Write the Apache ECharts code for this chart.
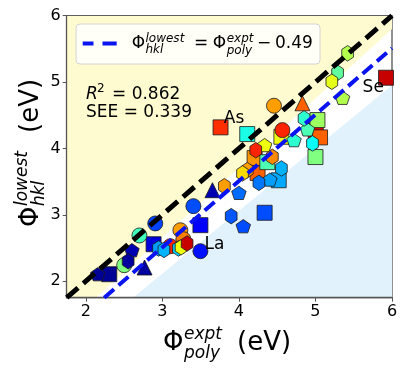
<!DOCTYPE html>
<html><head><meta charset="utf-8">
<script src="https://cdn.jsdelivr.net/npm/echarts@6/dist/echarts.min.js"></script>
<style>html,body{margin:0;padding:0;background:#fff}#c{width:407px;height:376px}</style>
</head><body><div id="c"></div>
<script>
// ---- axis ----
const axisMin = 1.75, axisMax = 6;
const xTicks = [2, 3, 4, 5, 6];
const yTicks = [2, 3, 4, 5, 6];
// ---- background region edges (value coordinates) ----
const yellowEdgeX = [2.13, 6.0];
const yellowEdgeY = [1.75, 5.80];
const blueEdgeX = [2.615, 6.0];
const blueEdgeY = [1.75, 4.95];
// ---- fit ----
const fitOffset = -0.49;
const parityX = [1.75, 6];
// ---- data (x = expt poly, y = lowest hkl, c = colour value 0..1 on jet) ----
const squareX = [2.306, 2.885, 3.497, 4.336, 3.76, 4.109, 4.205, 4.244, 4.371, 4.52, 4.555, 5.004, 5.026, 5.06, 5.0, 5.922];
const squareY = [2.104, 2.556, 2.843, 3.03, 4.317, 4.216, 3.854, 3.63, 3.793, 3.52, 4.175, 4.26, 4.427, 4.166, 3.87, 5.065];
const squareC = [0.02, 0.09, 0.12, 0.20, 0.83, 0.40, 0.73, 0.78, 0.45, 0.29, 0.61, 0.90, 0.53, 0.78, 0.50, 0.93];

const circleX = [2.501, 2.70, 2.907, 3.104, 3.235, 3.274, 3.497, 3.405, 4.458, 4.568];
const circleY = [2.24, 2.688, 2.869, 2.526, 2.767, 2.632, 2.451, 3.13, 4.643, 4.276];
const circleC = [0.50, 0.44, 0.19, 0.84, 0.72, 0.75, 0.14, 0.20, 0.72, 0.84];

const triangleX = [2.767, 3.654, 4.83];
const triangleY = [2.205, 3.37, 4.68];
const triangleC = [0.03, 0.05, 0.78];

const pentagonX = [2.156, 2.602, 4.0, 4.057, 4.336, 4.72, 4.895, 4.405, 5.354];
const pentagonY = [2.104, 2.466, 3.33, 2.828, 4.05, 4.125, 4.287, 3.53, 4.763];
const pentagonC = [0.02, 0.05, 0.23, 0.20, 0.61, 0.42, 0.45, 0.28, 0.55];

const hexagonX = [2.553, 2.95, 3.02, 3.21, 3.244, 3.323, 3.81, 3.899, 4.22, 4.437, 4.109, 4.047, 4.555, 4.261, 4.851, 4.961, 5.42, 5.289, 5.214];
const hexagonY = [2.30, 2.492, 2.47, 2.492, 2.51, 2.567, 3.43, 2.979, 3.973, 3.873, 3.673, 3.623, 3.698, 3.481, 4.452, 4.075, 5.433, 5.14, 5.005];
const hexagonC = [0.03, 0.28, 0.30, 0.33, 0.61, 0.93, 0.72, 0.21, 0.84, 0.74, 0.72, 0.66, 0.30, 0.24, 0.42, 0.38, 0.55, 0.47, 0.60];

const labelNames = ['As', 'Se', 'La'];
const labelX = [3.802, 5.616, 3.55];
const labelY = [4.45, 4.91, 2.557];

const FONT = '"DejaVu Sans", sans-serif';
const pentPath = 'path://M0,-100L95.1,-30.9L58.8,80.9L-58.8,80.9L-95.1,-30.9Z';
const hexPath = 'path://M0,-100L86.6,-50L86.6,50L0,100L-86.6,50L-86.6,-50Z';

function zip3(a, b, c) { return a.map((v, i) => [v, b[i], c[i]]); }

const scatterBase = {
  type: 'scatter', z: 2,
  itemStyle: { borderColor: '#1a1a1a', borderWidth: 0.8, opacity: 1 },
  emphasis: { disabled: true }
};

function txt(x, y, text, size, italic, extra) {
  return Object.assign({
    type: 'text', x: x, y: y, z: 100,
    style: { text: text, fontSize: size, fontFamily: FONT, fontStyle: italic ? 'italic' : 'normal',
             fill: '#000', align: 'left', verticalAlign: 'middle' }
  }, extra || {});
}

const chart = echarts.init(document.getElementById('c'), null, { renderer: 'canvas' });

const fitX = [axisMin - fitOffset, axisMax];
const fitY = fitX.map(v => v + fitOffset);

const option = {
  animation: false,
  backgroundColor: '#fff',
  grid: { left: 66.7, right: 15, top: 15.7, bottom: 78.3, show: true, borderColor: '#555', borderWidth: 1.3, backgroundColor: 'transparent' },
  xAxis: {
    type: 'value', min: axisMin, max: axisMax,
    axisLine: { show: true, lineStyle: { color: '#555', width: 1.3 } },
    axisTick: { show: true, customValues: xTicks, length: 4, lineStyle: { color: '#555', width: 1 } },
    axisLabel: { customValues: xTicks, fontSize: 16, fontFamily: FONT, color: '#000', margin: 6 },
    splitLine: { show: false }
  },
  yAxis: {
    type: 'value', min: axisMin, max: axisMax,
    axisLine: { show: true, lineStyle: { color: '#555', width: 1.3 } },
    axisTick: { show: true, customValues: yTicks, length: 4, lineStyle: { color: '#555', width: 1 } },
    axisLabel: { customValues: yTicks, fontSize: 16, fontFamily: FONT, color: '#000', margin: 6 },
    splitLine: { show: false }
  },
  visualMap: {
    show: false, type: 'continuous', min: 0, max: 1, dimension: 2,
    seriesIndex: [1, 2, 3, 4, 5],
    inRange: { color: ['#000080', '#0000ff', '#0080ff', '#00ffff', '#80ff80', '#ffff00', '#ff8000', '#ff0000', '#800000'] }
  },
  series: [
    {
      type: 'custom', z: 0, silent: true, clip: true,
      data: [[axisMin, axisMin]],
      encode: { x: 0, y: 1 },
      renderItem: function (params, api) {
        const yPts = [[axisMin, axisMin], [yellowEdgeX[0], yellowEdgeY[0]], [yellowEdgeX[1], yellowEdgeY[1]], [axisMax, axisMax], [axisMin, axisMax]].map(p => api.coord(p));
        const bPts = [[blueEdgeX[0], blueEdgeY[0]], [blueEdgeX[1], blueEdgeY[1]], [axisMax, axisMin]].map(p => api.coord(p));
        return { type: 'group', children: [
          { type: 'polygon', shape: { points: yPts }, style: { fill: '#fffbd0' } },
          { type: 'polygon', shape: { points: bPts }, style: { fill: '#e2f2fc' } }
        ] };
      }
    },
    Object.assign({}, scatterBase, { name: 'square', symbol: 'rect', symbolSize: 15, data: zip3(squareX, squareY, squareC) }),
    Object.assign({}, scatterBase, { name: 'circle', symbol: 'circle', symbolSize: 15, data: zip3(circleX, circleY, circleC) }),
    Object.assign({}, scatterBase, { name: 'triangle', symbol: 'triangle', symbolSize: 15, data: zip3(triangleX, triangleY, triangleC) }),
    Object.assign({}, scatterBase, { name: 'pentagon', symbol: pentPath, symbolKeepAspect: true, symbolSize: [14.5, 14], data: zip3(pentagonX, pentagonY, pentagonC) }),
    Object.assign({}, scatterBase, { name: 'hexagon', symbol: hexPath, symbolKeepAspect: true, symbolSize: [13.5, 15.5], data: zip3(hexagonX, hexagonY, hexagonC) }),
    {
      type: 'line', z: 3, symbol: 'none', silent: true,
      data: parityX.map(v => [v, v]),
      lineStyle: { color: '#000', width: 5, type: [15, 7] }
    },
    {
      type: 'line', z: 3, symbol: 'none', silent: true,
      data: fitX.map((v, i) => [v, fitY[i]]),
      lineStyle: { color: '#0a14f0', width: 4, type: [13, 6] }
    },
    {
      type: 'custom', z: 4, silent: true, clip: false,
      data: labelX.map((v, i) => [v, labelY[i], i]),
      encode: { x: 0, y: 1 },
      renderItem: function (params, api) {
        const p = api.coord([api.value(0), api.value(1)]);
        return { type: 'text', x: p[0], y: p[1],
          style: { text: labelNames[api.value(2)], fontSize: 17, fontFamily: FONT, fill: '#000', align: 'left', verticalAlign: 'middle' } };
      }
    }
  ],
  graphic: [
    { type: 'rect', z: 90, shape: { x: 76, y: 24, width: 244, height: 40, r: 4 }, style: { fill: 'rgba(255,255,255,0.82)', stroke: '#d4d4d4', lineWidth: 1 } },
    { type: 'line', z: 95, shape: { x1: 82.7, y1: 43.5, x2: 93.5, y2: 43.5 }, style: { stroke: '#0a14f0', lineWidth: 4 } },
    { type: 'line', z: 95, shape: { x1: 102.5, y1: 43.5, x2: 116.7, y2: 43.5 }, style: { stroke: '#0a14f0', lineWidth: 4 } },
    txt(131.7, 44, 'Φ', 17, false),
    txt(145.5, 38.5, 'lowest', 12, true),
    txt(145.5, 50, 'hkl', 12, true),
    txt(194, 44, '=', 17, false),
    txt(212.7, 44, 'Φ', 17, false),
    txt(226.7, 38.5, 'expt', 12, true),
    txt(226.7, 51, 'poly', 12, true),
    txt(257, 44, '−', 17, false),
    txt(275, 44, '0.49', 17, false),
    // R2 / SEE
    txt(86, 95, 'R', 17, true),
    txt(97, 89, '2', 12, false),
    txt(112, 95, '= 0.862', 17, false),
    txt(86, 113, 'SEE = 0.339', 17, false),
    // x axis title
    txt(163, 343, 'Φ', 26, false),
    txt(184, 335, 'expt', 17, true),
    txt(184, 354, 'poly', 17, true),
    txt(237, 343, '(eV)', 26, false),
    // y axis title (rotated)
    { type: 'group', x: 31, y: 227, rotation: Math.PI / 2, z: 100, children: [
      txt(0, 0, 'Φ', 26, false),
      txt(21, -8, 'lowest', 17, true),
      txt(21, 9, 'hkl', 17, true),
      txt(94, 0, '(eV)', 26, false)
    ] }
  ]
};
chart.setOption(option);
</script>
</body></html>
